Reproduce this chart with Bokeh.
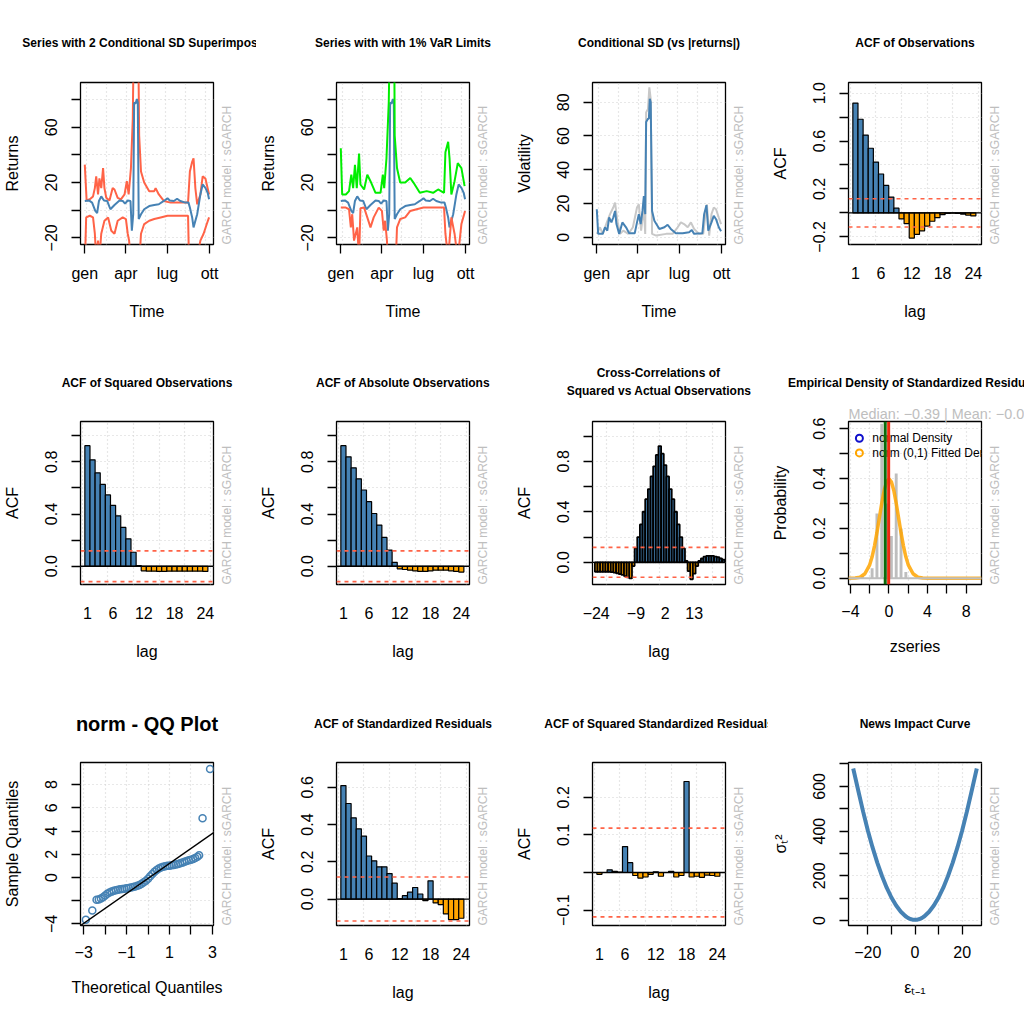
import math
from bokeh.plotting import figure
from bokeh.layouts import gridplot
from bokeh.models import (FixedTicker, Span, Range1d, Slope, ColumnDataSource, Title, LinearAxis)
from bokeh.embed import file_html
from bokeh.resources import INLINE
from bokeh.core.properties import value

FONT = "Liberation Sans"
STEEL = "#4682B4"
TOMATO = "#FF6347"
ORANGE = "#FFA500"
GREEN = "#00EE00"
GRIDC = "#D0D0D0"
GRAYTXT = "#BEBEBE"

# ---------------- data ----------------
month_ticks = [0, 90, 181, 273]
month_labels = ["gen", "apr", "lug", "ott"]

ret_day = [0, 9, 16, 23, 27, 31, 36, 42, 49, 56, 65, 76, 83, 88, 94, 100, 103, 106, 108, 111,
           114, 116, 118, 123, 130, 141, 152, 162, 173, 181, 186, 195, 202, 209, 220, 227, 230, 235, 238, 246,
           253, 258, 264, 269, 272]
ret_val = [6.7, 7.1, 5.5, -0.5, -2.0, 6.7, 10.0, 7.0, 6.7, 0.7, 3.8, 7.0, 6.7, 4.8, 7.0, 6.7, -14.8, -2.9, 78.0, 77.0,
           80.5, 78.0, -6.4, -2.9, 0.7, 3.0, 3.8, 4.3, 6.7, 8.6, 7.0, 6.7, 8.3, 6.7, 5.5, 5.5, 1.9, -5.2, -12.4, -2.9,
           11.4, 18.6, 16.2, 12.6, 7.9]

sd2u_day = [0, 2, 4, 11, 18, 22, 25, 29, 32, 36, 40, 43, 47, 54, 61, 65, 72, 79, 87, 92,
            96, 101, 105, 107, 117, 119, 123, 130, 141, 152, 155, 162, 173, 188, 209, 226, 230, 235, 238, 242,
            246, 253, 258, 264, 272]
sd2u_val = [33, 20, 7.0, 7.9, 10.0, 16.0, 24.5, 11.4, 23.0, 16.0, 30.5, 16.0, 9.0, 7.0, 16.0, 15.0, 9.0, 7.9, 11.4, 21.0,
            11.4, 30.5, 66, 120, 120, 54, 28, 20, 13.8, 13.8, 16.0, 11.4, 6.7, 5.5, 5.5, 5.5, 28, 35, 37.6, 16.0,
            4.3, 11.4, 24.5, 23.0, 11.4]
sd2l_day = [0, 3, 11, 18, 22, 25, 29, 32, 36, 43, 51, 58, 65, 72, 83, 90, 94, 97, 101, 105,
            119, 123, 130, 141, 152, 166, 181, 209, 226, 228, 246, 253, 260, 267, 272]
sd2l_val = [-41, -5.2, -4.0, -5.2, -17, -35, -22, -35, -17, -7.6, -5.2, -14.8, -17, -7.6, -5.2, -6.4, -17, -22, -40, -60,
            -40, -17, -10, -7.6, -6.4, -5.2, -4.0, -4.0, -4.0, -35, -35, -22, -17, -10, -5.2]

varu_day = [0, 3, 11, 18, 23, 27, 31, 35, 40, 43, 51, 58, 65, 76, 87, 92, 95, 100, 105, 107,
            117, 118, 123, 130, 141, 152, 159, 173, 188, 202, 213, 226, 229, 235, 238, 242, 249, 256, 264, 271]
varu_val = [44.8, 11.4, 11.4, 13.8, 25.7, 16, 32.9, 16, 41, 18.6, 15, 25.7, 21, 12.6, 12.6, 25.7, 16, 37.6, 78, 120,
            120, 54, 30.5, 20, 20, 23.3, 20, 12.6, 13.8, 12.6, 15, 12.6, 42, 49.5, 37.6, 11.4, 21, 34, 30.5, 17.4]
varl_day = [0, 11, 18, 22, 25, 29, 36, 40, 43, 51, 58, 65, 72, 83, 90, 94, 97, 101, 105, 119,
            123, 130, 141, 152, 166, 181, 209, 226, 229, 235, 242, 249, 256, 264, 272]
varl_val = [1.9, 1.9, 0.7, -12.4, -2.9, -22, -12.4, -35, 1.4, 1.9, -5.2, -12.4, -5.2, 1.9, -0.5, -14.8, -7.6, -22, -50, -50,
            -12.4, -6.4, -5.2, -0.5, 0.7, 1.9, 1.9, 1.9, -17, -35, -5.2, -17, -35, -10, -0.5]

sig_day = [0, 3, 13, 18, 23, 27, 32, 36, 40, 43, 49, 56, 64, 71, 83, 88, 92, 96, 100, 103,
           106, 108, 112, 114, 116, 118, 121, 126, 137, 148, 155, 162, 173, 188, 202, 208, 213, 231, 235, 240,
           244, 251, 256, 261, 267, 272]
sig_val = [16.6, 2.0, 2.0, 5.9, 3.9, 11.7, 8.8, 11.7, 15.6, 7.8, 2.0, 8.8, 5.9, 2.3, 2.3, 8.8, 13.7, 7.8, 15.6, 24.4,
           13.7, 68.3, 70.2, 70.2, 82, 80, 15.6, 9.8, 4.9, 5.9, 7.4, 4.9, 2.3, 2.3, 2.9, 4.3, 2.0, 2.3, 13.7, 19,
           3.9, 8.8, 12.7, 10.7, 5.9, 3.5]
abs_day = [0, 7, 13, 22, 29, 36, 40, 45, 51, 58, 69, 79, 88, 92, 97, 103, 106, 108, 112, 115,
           118, 121, 130, 152, 166, 177, 184, 191, 199, 206, 213, 224, 233, 237, 241, 246, 251, 256, 261, 267, 272]
abs_val = [2, 5.9, 2, 8.8, 13.7, 17.6, 20.5, 9.8, 2, 3.9, 2, 5.9, 17.6, 19.5, 3.9, 17.6, 2, 74, 76, 88.8,
           82, 2, 1, 2, 2, 5.9, 8.8, 7.8, 5.9, 8.8, 4.9, 2, 2, 11.7, 19.5, 1, 13.7, 17.6, 16.6, 11.7, 7.8]

lags = list(range(1, 25))
acf_obs = [0.917, 0.782, 0.65, 0.54, 0.424, 0.325, 0.229, 0.132, 0.039, -0.05, -0.09, -0.21, -0.18, -0.15,
           -0.11, -0.07, -0.04, -0.015, -0.005, -0.003, -0.005, -0.01, -0.018, -0.025]
acf_sq = [0.924, 0.815, 0.716, 0.627, 0.546, 0.467, 0.386, 0.297, 0.21, 0.107, 0.005, -0.035, -0.038, -0.038,
          -0.04, -0.04, -0.038, -0.038, -0.038, -0.038, -0.038, -0.038, -0.038, -0.04]
acf_abs = [0.924, 0.838, 0.754, 0.67, 0.584, 0.495, 0.404, 0.315, 0.221, 0.124, 0.03, -0.02, -0.025, -0.03,
           -0.035, -0.04, -0.04, -0.035, -0.03, -0.03, -0.03, -0.035, -0.04, -0.045]
ccf_lags = list(range(-24, 25))
ccf_val = [-0.075, -0.075, -0.075, -0.075, -0.075, -0.075, -0.078, -0.082, -0.087, -0.093, -0.1, -0.11,
           -0.12, -0.128, -0.03, 0.11, 0.2, 0.3, 0.4, 0.5, 0.58, 0.68, 0.76, 0.85, 0.92,
           0.86, 0.77, 0.68, 0.58, 0.5, 0.4, 0.3, 0.2, 0.11, 0.01, -0.07, -0.135, -0.09, -0.03,
           0.01, 0.03, 0.045, 0.05, 0.05, 0.05, 0.045, 0.04, 0.03, 0.02]
acf_std = [0.609, 0.513, 0.436, 0.377, 0.338, 0.231, 0.205, 0.173, 0.173, 0.137, 0.085, 0.003, 0.018, 0.037,
           0.062, 0.027, -0.009, 0.098, -0.021, -0.03, -0.08, -0.11, -0.11, -0.103]
acf_sqstd = [-0.005, 0.0, 0.007, 0.003, 0.001, 0.069, 0.026, -0.008, -0.015, -0.012, -0.005, 0.002, -0.01, 0.0,
             0.003, -0.012, -0.008, 0.242, -0.012, -0.01, -0.013, -0.007, -0.008, -0.01]
conf_band = 0.118

hist_x = [-2.75, -1.75, -1.25, -0.75, -0.25, 0.25, 0.75, 1.25, 1.75, 9.25]
hist_y = [0.008, 0.04, 0.26, 0.62, 0.30, 0.17, 0.42, 0.20, 0.025, 0.004]
nd_x = [-4.2, -3.5, -3.0, -2.5, -2.0, -1.75, -1.5, -1.25, -1.0, -0.75, -0.5, -0.25, 0.0,
        0.25, 0.5, 0.75, 1.0, 1.25, 1.5, 1.75, 2.0, 2.5, 3.0, 3.5, 4.0, 9.6]
nd_y = [0.0, 0.001, 0.004, 0.018, 0.054, 0.086, 0.13, 0.183, 0.242, 0.301, 0.352, 0.387, 0.399,
        0.387, 0.352, 0.301, 0.242, 0.183, 0.13, 0.086, 0.054, 0.018, 0.004, 0.001, 0.0, 0.0]
z_median = -0.39
z_mean = -0.0332
legend_labels = ["normal Density", "norm (0,1) Fitted Density"]

qq_theo = [-2.9, -2.6, -2.4, -2.3, -2.2, -2.1, -2.0, -1.9, -1.8, -1.7, -1.6, -1.5, -1.4, -1.3, -1.2, -1.1,
           -1.0, -0.9, -0.8, -0.7, -0.6, -0.5, -0.4, -0.3, -0.2, -0.1, 0.0, 0.1, 0.2, 0.3, 0.4, 0.5,
           0.6, 0.7, 0.8, 0.9, 1.0, 1.1, 1.2, 1.3, 1.4, 1.5, 1.6, 1.7, 1.8, 1.9, 2.0, 2.1, 2.2, 2.3,
           2.38, 2.54, 2.89]
qq_samp = [-3.65, -2.85, -1.92, -1.9, -1.82, -1.7, -1.55, -1.4, -1.3, -1.22, -1.15, -1.1, -1.05, -1.02, -1.0, -0.97,
           -0.93, -0.9, -0.86, -0.82, -0.78, -0.72, -0.65, -0.55, -0.42, -0.28, -0.1, 0.1, 0.3, 0.5, 0.65, 0.78,
           0.86, 0.92, 0.97, 1.0, 1.02, 1.05, 1.08, 1.12, 1.17, 1.22, 1.28, 1.35, 1.42, 1.48, 1.53, 1.6, 1.68, 1.78,
           1.92, 5.1, 9.35]
qq_slope = 1.29
qq_intercept = -0.08

nic_x = [-26.2, -24, -22, -20, -18, -16, -14, -12, -10, -8, -6, -4, -3, -2, -1, 0,
         1, 2, 3, 4, 6, 8, 10, 12, 14, 16, 18, 20, 22, 24, 26.2]
nic_y = [680, 578, 487, 403, 327, 259, 199, 147, 103, 67, 39, 19, 12, 7, 4, 3,
         4, 7, 12, 19, 39, 67, 103, 147, 199, 259, 327, 403, 487, 578, 680]

# ---------------- layout ----------------
COL_W = [256, 256, 256, 256]
COL_L = [79, 79, 79, 79]
ROW_H = [341, 341, 341]
ROW_T = [80, 79, 79]
FW, FH = 134, 164


def add_title(p, text, standoff, size="12px", style="bold", color="black", align="center", lh=1.2):
    p.add_layout(Title(text=text, align=align, standoff=standoff, text_font=FONT,
                       text_font_size=size, text_font_style=style, text_color=color,
                       text_line_height=lh), "above")


def make_fig(r, c, xr, yr, xlabel, ylabel, xticks, xlabels, yticks, ylabels,
             xgrid, ygrid, xtickmarks=True):
    p = figure(width=COL_W[c], height=ROW_H[r], x_range=Range1d(*xr), y_range=Range1d(*yr),
               output_backend="svg", toolbar_location=None, title=None,
               min_border_left=COL_L[c], min_border_right=COL_W[c] - COL_L[c] - FW,
               min_border_top=ROW_T[r], min_border_bottom=ROW_H[r] - ROW_T[r] - FH)
    p.outline_line_color = "black"
    p.outline_line_width = 1.3
    p.outline_line_alpha = 1.0
    p.background_fill_color = "white"
    p.border_fill_color = "white"
    xa = p.xaxis[0]
    ya = p.yaxis[0]
    for ax in (xa, ya):
        ax.axis_line_color = None
        ax.major_tick_line_color = "black"
        ax.major_tick_line_width = 1.3
        ax.major_tick_in = 0
        ax.major_tick_out = 9
        ax.minor_tick_line_color = None
        ax.minor_tick_in = 0
        ax.minor_tick_out = 0
        ax.major_label_text_font = FONT
        ax.major_label_text_font_size = "16px"
        ax.major_label_text_color = "black"
        ax.axis_label_text_font = FONT
        ax.axis_label_text_font_size = "16px"
        ax.axis_label_text_font_style = "normal"
        ax.axis_label_text_color = "black"
    xa.major_label_standoff = 11
    xa.axis_label_standoff = 18
    ya.major_label_standoff = 14
    ya.axis_label_standoff = 22
    xa.ticker = FixedTicker(ticks=xticks)
    xa.major_label_overrides = dict(zip(xticks, xlabels))
    ya.ticker = FixedTicker(ticks=yticks)
    ya.major_label_overrides = dict(zip(yticks, ylabels))
    ya.major_label_orientation = "vertical"
    xa.axis_label = xlabel
    ya.axis_label = ylabel
    if not xtickmarks:
        xa.major_tick_out = 0
        xa.major_tick_line_color = None
        xa.major_label_standoff = 22
        xa.axis_label_standoff = 21
    p.xgrid.ticker = FixedTicker(ticks=xgrid)
    p.ygrid.ticker = FixedTicker(ticks=ygrid)
    for g in (p.xgrid[0], p.ygrid[0]):
        g.grid_line_color = GRIDC
        g.grid_line_dash = "1 3"
        g.grid_line_width = 1.2
    # model tag on the right side
    ra = LinearAxis(ticker=FixedTicker(ticks=[]), axis_label="GARCH model : sGARCH",
                    axis_line_color=None, major_tick_line_color=None, minor_tick_line_color=None,
                    major_tick_out=0, major_tick_in=0, minor_tick_out=0, minor_tick_in=0,
                    major_label_text_font_size="0px", axis_label_standoff=13,
                    axis_label_text_font=FONT, axis_label_text_font_size="12px",
                    axis_label_text_font_style="normal", axis_label_text_color=GRAYTXT)
    try:
        ra.axis_label_orientation = math.pi / 2
    except Exception:
        pass
    try:
        ra.axis_label_align = "start"
    except Exception:
        pass
    p.add_layout(ra, "right")
    return p


def acf_bars(p, x, vals, width=1.0, lw=1.2):
    cols = [STEEL if v >= 0 else ORANGE for v in vals]
    src = ColumnDataSource(dict(x=x, top=vals, color=cols))
    p.vbar(x="x", top="top", bottom=0, width=width, fill_color="color", line_color="black",
           line_width=lw, source=src)
    p.add_layout(Span(location=0, dimension="width", line_color="black", line_width=1.3))
    for s in (conf_band, -conf_band):
        p.add_layout(Span(location=s, dimension="width", line_color=TOMATO, line_width=1.6,
                          line_dash="4 4"))


TS_X = (-9.4, 281.7)
ts_grid = [3.8, 47, 90.4, 133.7, 177, 220.3, 263.6]
ret_yt = [-20, 0, 20, 40, 60, 80]
ret_yl = ["\u221220", "", "20", "", "60", ""]
T0, T1, T2 = 65.5, 63.5, 63.5

# 1: series with 2 SD
p1 = make_fig(0, 0, TS_X, (-24.8, 92.4), "Time", "Returns",
              month_ticks, month_labels, ret_yt, ret_yl, ts_grid, ret_yt)
add_title(p1, "Series with 2 Conditional SD Superimposed", T0)
p1.line(sd2u_day, sd2u_val, line_color=TOMATO, line_width=2)
p1.line(sd2l_day, sd2l_val, line_color=TOMATO, line_width=2)
p1.line(ret_day, ret_val, line_color=STEEL, line_width=2)

# 2: VaR limits
p2 = make_fig(0, 1, TS_X, (-24.8, 92.4), "Time", "Returns",
              month_ticks, month_labels, ret_yt, ret_yl, ts_grid, ret_yt)
add_title(p2, "Series with with 1% VaR Limits", T0)
p2.line(ret_day, ret_val, line_color=STEEL, line_width=2)
p2.line(varu_day, varu_val, line_color=GREEN, line_width=2)
p2.line(varl_day, varl_val, line_color=TOMATO, line_width=2)

# 3: conditional SD
vol_t = [0, 20, 40, 60, 80]
p3 = make_fig(0, 2, TS_X, (-4.3, 91.7), "Time", "Volatility",
              month_ticks, month_labels, vol_t, [str(v) for v in vol_t], ts_grid, vol_t)
add_title(p3, "Conditional SD (vs |returns|)", T0)
p3.line(abs_day, abs_val, line_color="#C8C8C8", line_width=2)
p3.line(sig_day, sig_val, line_color=STEEL, line_width=2)

ACF_X = (-0.35, 25.6)
lag_t = [1, 6, 12, 18, 24]
lag_l = ["1", "6", "12", "18", "24"]
lag_grid = [0, 5, 10, 15, 20, 25]

# 4: ACF of observations
y4 = [-0.2, 0.0, 0.2, 0.4, 0.6, 0.8, 1.0]
p4 = make_fig(0, 3, ACF_X, (-0.264, 1.089), "lag", "ACF",
              lag_t, lag_l, y4, ["\u22120.2", "", "0.2", "", "0.6", "", "1.0"], lag_grid, y4, xtickmarks=False)
add_title(p4, "ACF of Observations", T0)
acf_bars(p4, lags, acf_obs)

# 5, 6
y5 = [0.0, 0.2, 0.4, 0.6, 0.8, 1.0]
y5l = ["0.0", "", "0.4", "", "0.8", ""]
p5 = make_fig(1, 0, ACF_X, (-0.14, 1.109), "lag", "ACF",
              lag_t, lag_l, y5, y5l, lag_grid, y5, xtickmarks=False)
add_title(p5, "ACF of Squared Observations", T1)
acf_bars(p5, lags, acf_sq)
p6 = make_fig(1, 1, ACF_X, (-0.14, 1.109), "lag", "ACF",
              lag_t, lag_l, y5, y5l, lag_grid, y5, xtickmarks=False)
add_title(p6, "ACF of Absolute Observations", T1)
acf_bars(p6, lags, acf_abs)

# 7: cross correlations (first line padded with no-break spaces so both lines look centred)
p7 = make_fig(1, 2, (-25.4, 24.8), (-0.176, 1.115), "lag", "ACF",
              [-24, -9, 2, 13], ["\u221224", "\u22129", "2", "13"], y5, y5l, [-20, -10, 0, 10, 20], y5,
              xtickmarks=False)
add_title(p7, "\u00a0" * 9 + "Cross-Correlations of\nSquared vs Actual Observations", 46, lh=1.3)
acf_bars(p7, ccf_lags, ccf_val, lw=1.8)

# 8: empirical density
y8 = [0.0, 0.1, 0.2, 0.3, 0.4, 0.5, 0.6]
x8 = [-4, -2, 0, 2, 4, 6, 8]
p8 = make_fig(1, 3, (-4.2, 9.6), (-0.025, 0.629), "zseries", "Probability",
              x8, ["\u22124", "", "0", "", "4", "", "8"],
              y8, ["0.0", "", "0.2", "", "0.4", "", "0.6"], x8, y8)
add_title(p8, "Median:  \u22120.39 | Mean:  \u22120.03322", 0, size="14.4px", style="normal",
          color=GRAYTXT, align="left")
add_title(p8, "Empirical Density of Standardized Residuals", 27)
p8.vbar(x=hist_x, top=hist_y, bottom=0, width=0.3, fill_color="#BEBEBE", line_color=None)
p8.add_layout(Span(location=0, dimension="width", line_color="#BEBEBE", line_width=2))
p8.line(nd_x, nd_y, line_color=ORANGE, line_width=3.5, line_alpha=0.85)
p8.scatter(x=[-3.07, -3.07], y=[0.562, 0.503], marker="circle", size=7, fill_color=None,
           line_color=["#1010CC", ORANGE], line_width=2)
p8.text(x=[-1.73, -1.73], y=[0.562, 0.503], text=legend_labels, text_font=value(FONT),
        text_font_size="12px", text_baseline="middle", text_align="left", text_color="black")
p8.add_layout(Span(location=z_median, dimension="height", line_color="#0B6B0B", line_width=3))
p8.add_layout(Span(location=z_mean, dimension="height", line_color="#EE2A10", line_width=3))

# 9: QQ plot
y9 = [-4, -2, 0, 2, 4, 6, 8]
x9 = [-3, -2, -1, 0, 1, 2, 3]
p9 = make_fig(2, 0, (-3.15, 3.05), (-4.14, 9.91), "Theoretical Quantiles",
              "Sample Quantiles", x9, ["\u22123", "", "\u22121", "", "1", "", "3"],
              y9, ["\u22124", "", "0", "2", "4", "6", "8"], x9, y9)
add_title(p9, "norm - QQ Plot", 55, size="20px")
p9.add_layout(Slope(gradient=qq_slope, y_intercept=qq_intercept, line_color="black", line_width=1.5))
p9.scatter(x=qq_theo, y=qq_samp, marker="circle", size=7, fill_color=None, line_color=STEEL,
           line_width=1.5)

# 10: ACF std residuals
y10 = [0.0, 0.2, 0.4, 0.6]
p10 = make_fig(2, 1, ACF_X, (-0.142, 0.733), "lag", "ACF",
               lag_t, lag_l, y10, ["0.0", "0.2", "0.4", "0.6"], lag_grid, y10, xtickmarks=False)
add_title(p10, "ACF of Standardized Residuals", T2)
acf_bars(p10, lags, acf_std)

# 11: ACF squared std residuals
y11 = [-0.1, 0.0, 0.1, 0.2]
p11 = make_fig(2, 2, ACF_X, (-0.141, 0.2925), "lag", "ACF",
               lag_t, lag_l, y11, ["\u22120.1", "", "0.1", "0.2"], lag_grid, y11, xtickmarks=False)
add_title(p11, "ACF of Squared Standardized Residuals", T2)
acf_bars(p11, lags, acf_sqstd)

# 12: news impact curve
y12 = [0, 100, 200, 300, 400, 500, 600, 700]
x12 = [-20, -10, 0, 10, 20]
p12 = make_fig(2, 3, (-28.2, 28.2), (-22.2, 706.7), "\u03b5\u209c\u208b\u2081",
               "\u03c3\u209c\u00b2", x12, ["\u221220", "", "0", "", "20"],
               y12, ["0", "", "200", "", "400", "", "600", ""], x12, y12)
add_title(p12, "News Impact Curve", T2)
p12.line(nic_x, nic_y, line_color=STEEL, line_width=4)

grid = gridplot([[p1, p2, p3, p4], [p5, p6, p7, p8], [p9, p10, p11, p12]], toolbar_location=None)

open("out.html", "w").write(file_html(grid, INLINE))
